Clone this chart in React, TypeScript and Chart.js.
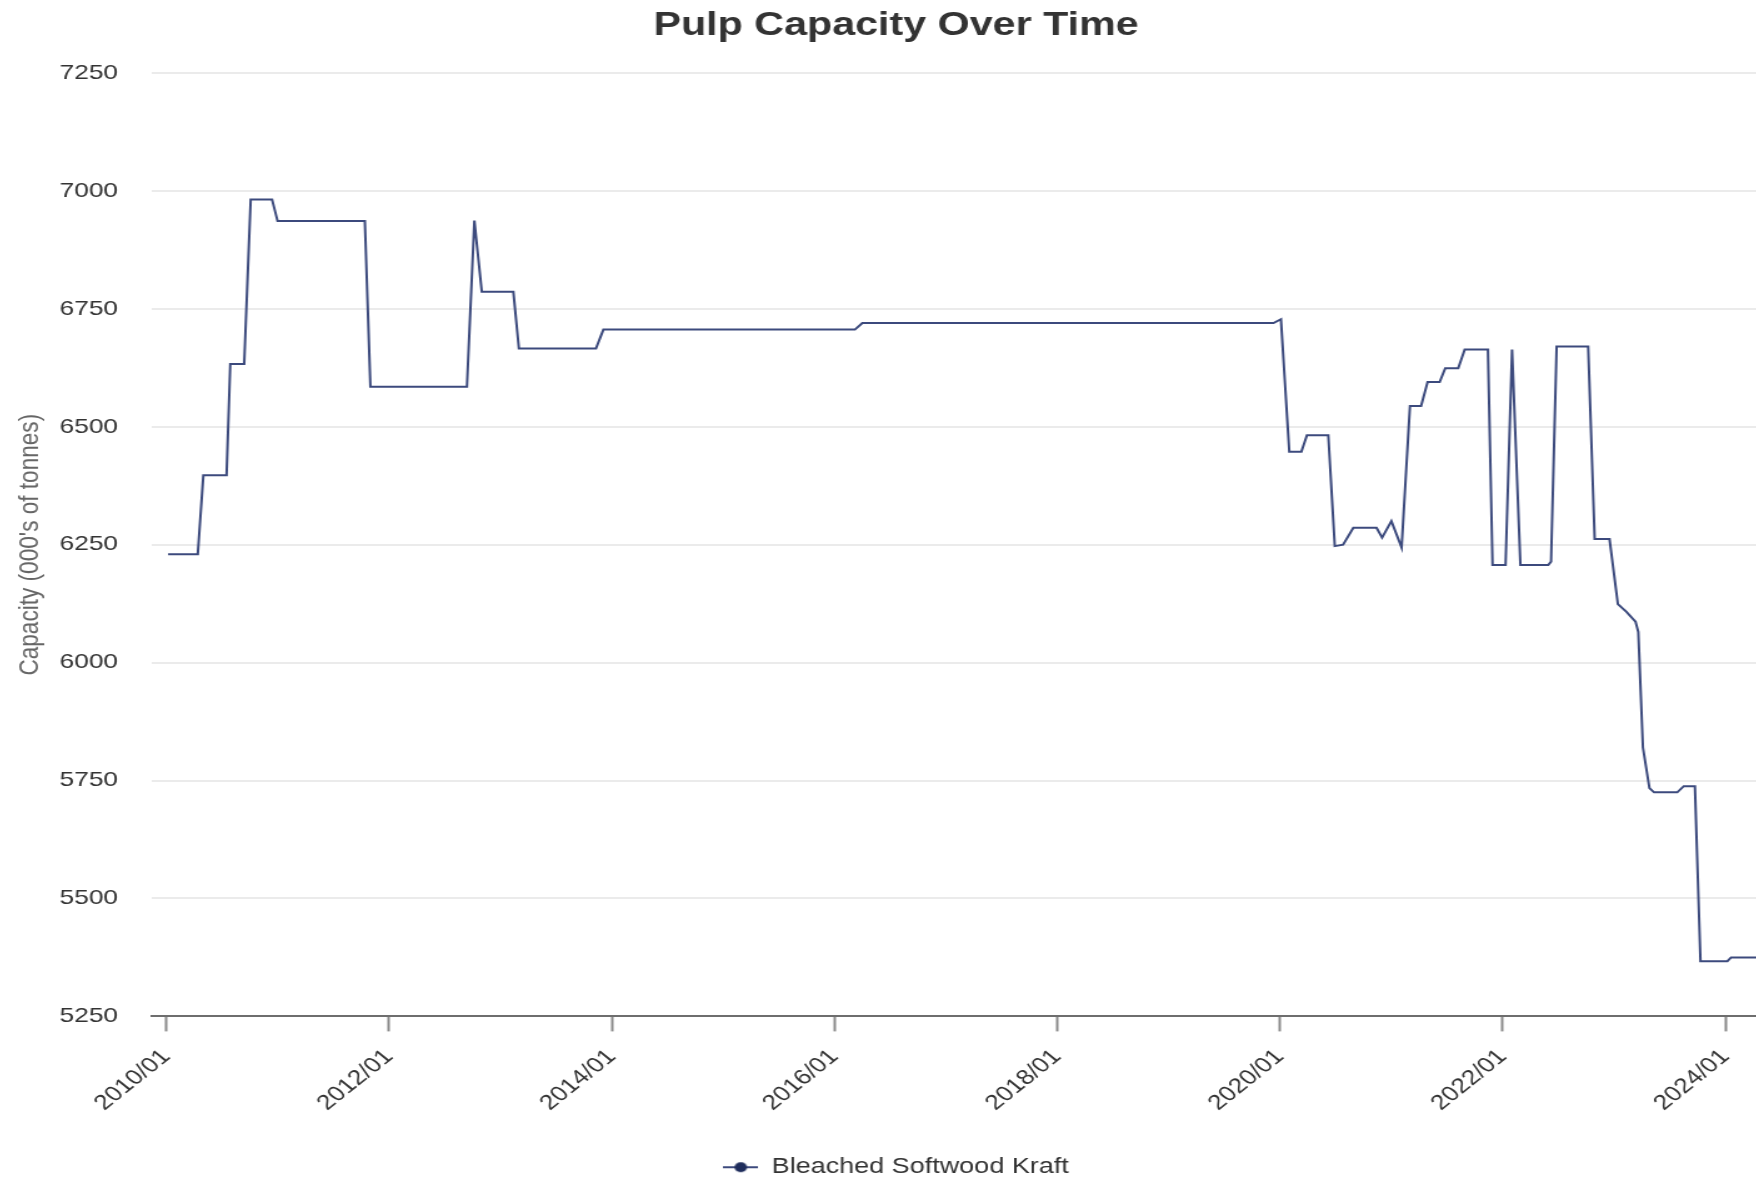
import { useEffect, useRef } from 'react';
import { Chart, registerables } from 'chart.js';

Chart.register(...registerables);

// ---- data ----
const seriesName = 'Bleached Softwood Kraft';
// months elapsed since 2010/01 at each vertex of the line
const monthsSince2010 = [
  0.2, 3.4, 4.0, 6.5, 6.9, 8.4, 9.1, 11.4, 12.0, 21.4,
  22.0, 32.4, 33.2, 34.0, 37.4, 38.0, 46.3, 47.1, 74.2, 75.0,
  119.3, 120.1, 121.0, 122.3, 122.9, 125.2, 125.9, 126.8, 127.9, 130.4,
  131.0, 132.0, 133.1, 134.0, 135.2, 135.9, 137.2, 137.8, 139.2, 139.9,
  142.4, 142.9, 144.3, 145.0, 145.9, 148.9, 149.2, 149.8, 153.2, 153.9,
  155.5, 156.4, 157.3, 158.3, 158.6, 159.1, 159.8, 160.3, 162.8, 163.5,
  164.7, 165.3, 168.2, 168.6, 174.0,
];
const capacity = [
  6230, 6230, 6397, 6397, 6633, 6633, 6982, 6982, 6936, 6936,
  6585, 6585, 6937, 6786, 6786, 6666, 6666, 6706, 6706, 6720,
  6720, 6728, 6447, 6447, 6482, 6482, 6247, 6250, 6286, 6286,
  6265, 6300, 6244, 6544, 6544, 6595, 6595, 6624, 6624, 6664,
  6664, 6207, 6207, 6664, 6207, 6207, 6214, 6670, 6670, 6262,
  6262, 6124, 6108, 6087, 6065, 5820, 5734, 5725, 5725, 5738,
  5738, 5367, 5367, 5375, 5375,
];
const xTickLabels = ['2010/01', '2012/01', '2014/01', '2016/01', '2018/01', '2020/01', '2022/01', '2024/01'];
const yMin = 5250;
const yMax = 7250;
const yStep = 250;

// ---- rendering setup ----
const CSS_W = 1776;
const CSS_H = 1180;
const X_STRETCH = 1.25;
const W = Math.round(CSS_W / X_STRETCH);
const H = CSS_H;
const FONT = "'Liberation Sans', Arial, Helvetica, sans-serif";
const LINE_COLOR = '#3c4a7d';

const labelToMonth = (l: string) => {
  const [y, m] = l.split('/').map(Number);
  return (y - 2010) * 12 + (m - 1);
};

export default function App() {
  const ref = useRef<HTMLCanvasElement>(null);
  useEffect(() => {
    document.documentElement.style.overflow = 'hidden';
    document.body.style.overflow = 'hidden';
    const canvas = ref.current!;

    const marker = document.createElement('canvas');
    marker.width = 28;
    marker.height = 14;
    const m = marker.getContext('2d')!;
    m.strokeStyle = LINE_COLOR;
    m.lineWidth = 2;
    m.beginPath();
    m.moveTo(0, 7);
    m.lineTo(28, 7);
    m.stroke();
    m.fillStyle = '#1f2d5c';
    m.beginPath();
    m.arc(14, 7, 5, 0, Math.PI * 2);
    m.fill();

    const data = monthsSince2010.map((x, i) => ({ x, y: capacity[i] }));

    const chart = new Chart(canvas, {
      type: 'line',
      data: {
        datasets: [
          {
            label: seriesName,
            data,
            borderColor: LINE_COLOR,
            backgroundColor: LINE_COLOR,
            borderWidth: 2,
            pointRadius: 0,
            tension: 0,
            fill: false,
          },
        ],
      },
      options: {
        responsive: false,
        animation: false,
        events: [],
        layout: { padding: 0 },
        plugins: {
          title: {
            display: true,
            text: 'Pulp Capacity Over Time',
            color: '#333333',
            font: { family: FONT, size: 33, weight: 'bold', lineHeight: 1 },
            padding: { top: 1, bottom: 31 },
          },
          legend: {
            display: true,
            position: 'bottom',
            labels: {
              usePointStyle: true,
              pointStyle: marker as any,
              pointStyleWidth: 28,
              color: '#333333',
              font: { family: FONT, size: 21.6 },
              padding: 10,
            },
          },
          tooltip: { enabled: false },
        },
        scales: {
          x: {
            type: 'linear',
            min: -1.56,
            max: 174.3,
            afterBuildTicks: (scale: any) => {
              scale.ticks = xTickLabels.map((l) => ({ value: labelToMonth(l) }));
            },
            afterFit: (scale: any) => {
              scale.height = 130;
            },
            ticks: {
              autoSkip: false,
              maxRotation: 45,
              minRotation: 45,
              padding: 13,
              color: '#333333',
              font: { family: FONT, size: 21 },
              callback: (v: any) => {
                const idx = xTickLabels.findIndex((l) => labelToMonth(l) === v);
                return idx >= 0 ? xTickLabels[idx] : '';
              },
            },
            grid: {
              display: true,
              drawOnChartArea: false,
              drawTicks: true,
              tickLength: 15,
              tickColor: '#8a8a8a',
              tickWidth: 2,
            },
            border: { display: true, color: '#6e6e6e', width: 2 },
          },
          y: {
            min: yMin,
            max: yMax,
            afterFit: (scale: any) => {
              scale.width = 115;
            },
            ticks: {
              stepSize: yStep,
              padding: 27,
              color: '#333333',
              font: { family: FONT, size: 21 },
              callback: (v: any) => String(v),
            },
            grid: { color: '#ebebeb', lineWidth: 2, drawTicks: false },
            border: { display: false },
            title: {
              display: true,
              text: "Capacity (000's of tonnes)",
              color: '#666666',
              font: { family: FONT, size: 22.6 },
              padding: { top: 4, bottom: 4 },
            },
          },
        },
      },
    });
    return () => chart.destroy();
  }, []);

  return (
    <div style={{ width: '100%', overflow: 'hidden' }}>
      <canvas
        ref={ref}
        width={W}
        height={H}
        style={{ width: CSS_W + 'px', height: CSS_H + 'px', display: 'block' }}
      />
    </div>
  );
}
